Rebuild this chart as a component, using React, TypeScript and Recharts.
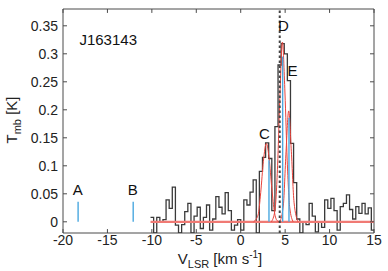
import React from 'react'
import { ComposedChart, Line, XAxis, YAxis, ReferenceLine, ReferenceArea, ReferenceDot } from 'recharts'

// channel left edges (km/s) and measured Tmb per channel
const channelEdges = [
  -10.15, -9.8, -9.45, -9.1, -8.75, -8.4, -8.05, -7.7, -7.35, -7.0,
  -6.65, -6.3, -5.95, -5.6, -5.25, -4.9, -4.55, -4.2, -3.85, -3.5,
  -3.15, -2.8, -2.45, -2.1, -1.75, -1.4, -1.05, -0.7, -0.35, 0.0,
  0.35, 0.7, 1.05, 1.4, 1.75, 2.1, 2.45, 2.8, 3.15, 3.5,
  3.85, 4.2, 4.55, 4.9, 5.25, 5.6, 5.95, 6.3, 6.65, 7.0,
  7.35, 7.7, 8.05, 8.4, 8.75, 9.1, 9.45, 9.8, 10.15, 10.5,
  10.85, 11.2, 11.55, 11.9, 12.25, 12.6, 12.95, 13.3, 13.65, 14.0,
  14.35, 14.7, 15.05,
]
const tmbValues = [
  0.008, -0.02, 0.008, 0.0, 0.004, 0.039, 0.024, 0.062, -0.006, -0.02,
  -0.005, 0.018, 0.033, -0.02, 0.01, 0.026, -0.012, 0.008, 0.03, -0.015,
  0.005, 0.045, 0.026, 0.014, 0.052, 0.02, -0.015, -0.006, 0.004, -0.015,
  0.039, 0.03, 0.053, 0.075, -0.02, 0.09, 0.115, 0.141, 0.113, 0.02,
  0.17, 0.28, 0.318, 0.3, 0.252, 0.14, 0.07, 0.005, -0.02, 0.0,
  -0.005, 0.033, 0.01, -0.018, 0.0, -0.01, 0.039, 0.024, 0.042, 0.02,
  -0.015, 0.027, 0.033, 0.048, 0.022, 0.005, 0.027, 0.015, 0.033, 0.014,
  0.025, -0.015, -0.015,
]

// gaussian fit curves
const fitC = [
  { v: 1.45, t: 0 }, { v: 1.95, t: 0.012 }, { v: 2.25, t: 0.052 }, { v: 2.55, t: 0.108 },
  { v: 2.89, t: 0.14 }, { v: 3.2, t: 0.113 }, { v: 3.5, t: 0.06 }, { v: 3.8, t: 0.017 },
  { v: 4.1, t: 0.002 }, { v: 4.35, t: 0 },
]
const fitD = [
  { v: 3.45, t: 0 }, { v: 3.85, t: 0.02 }, { v: 4.15, t: 0.1 }, { v: 4.4, t: 0.22 },
  { v: 4.69, t: 0.321 }, { v: 4.98, t: 0.23 }, { v: 5.23, t: 0.11 }, { v: 5.52, t: 0.025 },
  { v: 5.9, t: 0 },
]
const fitE = [
  { v: 4.4, t: 0 }, { v: 4.8, t: 0.03 }, { v: 5.1, t: 0.125 }, { v: 5.4, t: 0.198 },
  { v: 5.7, t: 0.125 }, { v: 6.0, t: 0.035 }, { v: 6.45, t: 0 },
]
const baseline = [{ v: -10.15, t: 0 }, { v: 15.05, t: 0 }]

const blueMarkers = [
  { v: -18.3, t: 0.036 },
  { v: -12.1, t: 0.036 },
  { v: 3.18, t: 0.11 },
  { v: 4.72, t: 0.295 },
  { v: 5.43, t: 0.186 },
]
const systemicV = 4.39

const letterLabels = [
  { text: 'A', v: -18.34, t: 0.057 },
  { text: 'B', v: -12.15, t: 0.057 },
  { text: 'C', v: 2.68, t: 0.158 },
  { text: 'D', v: 4.82, t: 0.351 },
  { text: 'E', v: 5.83, t: 0.269 },
]
const sourceName = 'J163143'

const xTicks = [-20, -15, -10, -5, 0, 5, 10, 15]
const yTicks = [0, 0.05, 0.1, 0.15, 0.2, 0.25, 0.3, 0.35]
const xDomain = [-20, 15]
const yDomain = [-0.02, 0.38]

const font = 'Liberation Sans, Arial, Helvetica, sans-serif'
const frame = '#4a4a4a'

export default function App() {
  const spectrum = channelEdges.map((v, i) => ({ v, t: tmbValues[i] }))
  const yFmt = (d: number) => (d === 0 ? '0' : String(Number(d.toFixed(2))))

  return (
    <div style={{ position: 'absolute', left: 0, top: 0, width: 388, height: 271, background: '#fff' }}>
      <ComposedChart width={388} height={271} margin={{ top: 9, right: 14, bottom: 0, left: 0 }}>
        <XAxis
          dataKey="v"
          type="number"
          domain={xDomain}
          ticks={xTicks}
          allowDataOverflow
          axisLine={false}
          tickLine={false}
          tickSize={0}
          tickMargin={2}
          height={38}
          tick={{ fontSize: 14, fill: '#222', fontFamily: font }}
        />
        <YAxis
          type="number"
          domain={yDomain}
          ticks={yTicks}
          allowDataOverflow
          axisLine={false}
          tickLine={false}
          tickSize={0}
          tickMargin={5}
          width={63}
          tickFormatter={yFmt}
          tick={{ fontSize: 14, fill: '#222', fontFamily: font }}
        />

        <Line data={spectrum} dataKey="t" type="stepAfter" dot={false} stroke="#3a3a3a" strokeWidth={1.3} isAnimationActive={false} />
        <Line data={baseline} dataKey="t" type="linear" dot={false} stroke="#f07a74" strokeWidth={2.2} isAnimationActive={false} />
        <Line data={fitC} dataKey="t" type="monotone" dot={false} stroke="#e8443c" strokeWidth={1} isAnimationActive={false} />
        <Line data={fitD} dataKey="t" type="monotone" dot={false} stroke="#e8443c" strokeWidth={1} isAnimationActive={false} />
        <Line data={fitE} dataKey="t" type="monotone" dot={false} stroke="#e8443c" strokeWidth={1} isAnimationActive={false} />

        <ReferenceLine x={systemicV} stroke="#444" strokeWidth={2} strokeDasharray="2.5 2.5" />
        {blueMarkers.map((m, i) => (
          <ReferenceLine key={'b' + i} segment={[{ x: m.v, y: 0 }, { x: m.v, y: m.t }]} stroke="#4aa8e0" strokeWidth={1.4} />
        ))}

        {xTicks.map((x) => (
          <ReferenceLine key={'xb' + x} segment={[{ x, y: yDomain[0] }, { x, y: yDomain[0] + 0.007 }]} stroke={frame} ifOverflow="visible" />
        ))}
        {xTicks.map((x) => (
          <ReferenceLine key={'xt' + x} segment={[{ x, y: yDomain[1] }, { x, y: yDomain[1] - 0.007 }]} stroke={frame} ifOverflow="visible" />
        ))}
        {yTicks.map((y) => (
          <ReferenceLine key={'yl' + y} segment={[{ x: xDomain[0], y }, { x: xDomain[0] + 0.45, y }]} stroke={frame} ifOverflow="visible" />
        ))}
        {yTicks.map((y) => (
          <ReferenceLine key={'yr' + y} segment={[{ x: xDomain[1], y }, { x: xDomain[1] - 0.45, y }]} stroke={frame} ifOverflow="visible" />
        ))}
        <ReferenceArea x1={xDomain[0]} x2={xDomain[1]} y1={yDomain[0]} y2={yDomain[1]} fill="none" stroke={frame} strokeWidth={1} ifOverflow="visible" />

        {letterLabels.map((l) => (
          <ReferenceDot key={l.text} x={l.v} y={l.t} r={0} stroke="none" fill="none"
            label={{ value: l.text, position: 'center', fontSize: 15, fill: '#111', fontFamily: font }} />
        ))}
        <ReferenceDot x={-14.91} y={0.326} r={0} stroke="none" fill="none"
          label={{ value: sourceName, position: 'center', fontSize: 15, fill: '#111', fontFamily: font }} />
      </ComposedChart>

      <svg width={388} height={271} style={{ position: 'absolute', left: 0, top: 0, pointerEvents: 'none' }}>
        <text transform="translate(17,120) rotate(-90)" textAnchor="middle" fontSize={15} fontFamily={font} fill="#222">
          T<tspan fontSize={11} dy={4}>mb</tspan><tspan dy={-4}> [K]</tspan>
        </text>
        <text x={220} y={264} textAnchor="middle" fontSize={15} fontFamily={font} fill="#222">
          V<tspan fontSize={11} dy={4}>LSR</tspan><tspan dy={-4}> [km s</tspan><tspan fontSize={10} dy={-6}>-1</tspan><tspan dy={6}>]</tspan>
        </text>
      </svg>
    </div>
  )
}
